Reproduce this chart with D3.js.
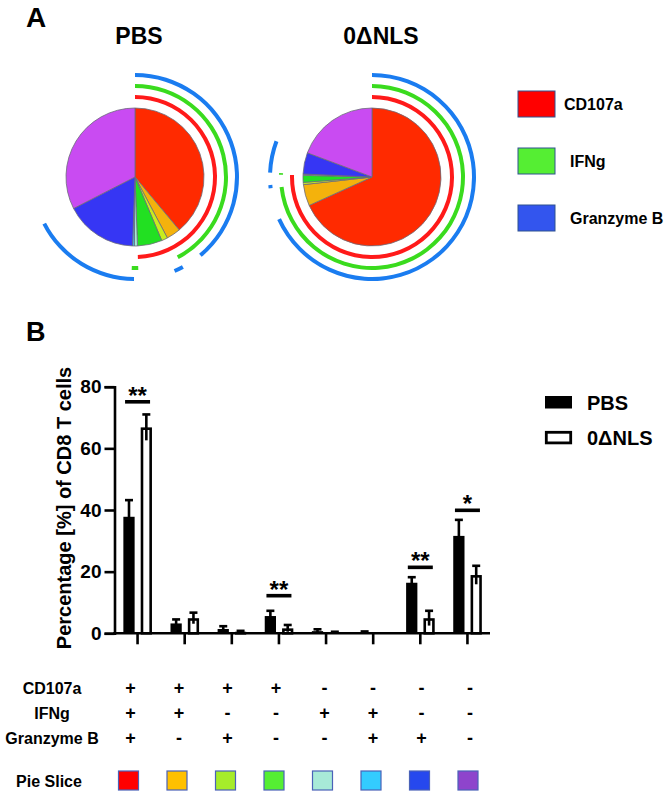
<!DOCTYPE html>
<html><head><meta charset="utf-8">
<script src="https://cdn.jsdelivr.net/npm/d3@7"></script>
<style>
body{margin:0;background:#fff}
svg{display:block;font-family:"Liberation Sans",Arial,Helvetica,sans-serif;font-weight:bold}
</style>
</head><body>
<svg id="chart" width="666" height="795"></svg>
<script>
// ---------- data ----------
const categories = ["+++", "++-", "+-+", "+--", "-+-", "-++", "--+", "---"];
const markers = ["CD107a", "IFNg", "Granzyme B"];
const cd107aSigns = ["+", "+", "+", "+", "-", "-", "-", "-"];
const ifngSigns = ["+", "+", "-", "-", "+", "+", "-", "-"];
const granzymeBSigns = ["+", "-", "+", "-", "-", "+", "+", "-"];
const groups = ["PBS", "0ΔNLS"];
const pbsMean = [37.8, 3.2, 1.4, 5.6, 0.7, 0.4, 16.4, 31.6];
const pbsSem = [5.4, 1.3, 0.9, 1.7, 0.6, 0.2, 1.8, 5.2];
const nlsMean = [66.8, 4.9, 0.5, 1.6, 0.3, 0.0, 4.9, 18.9];
const nlsSem = [4.2, 1.8, 0.3, 1.1, 0.2, 0.0, 2.4, 3.0];
const sigGroup = [0, 3, 6, 7];
const sigLabel = ["**", "**", "**", "*"];
const sigLevel = [75.1, 12.2, 21.4, 39.9];
const yTicks = [0, 20, 40, 60, 80];
const sliceColors = ["#FF2A00", "#F4B20C", "#C8EC1E", "#22E022", "#A8E8D8", "#3FCFF0", "#3636F4", "#C94BF2"];
const tableColors = ["#FF0000", "#FFC000", "#A6EC2A", "#55EE33", "#A8EAD8", "#33CCFF", "#2648EE", "#8E44CC"];
const ringColors = ["#FF1A1A", "#3ADB1E", "#1A7CF0"];
const legendColors = ["#FF0000", "#55EE33", "#3355EE"];

// ---------- setup ----------
const svg = d3.select("#chart");
const signs = [cd107aSigns, ifngSigns, granzymeBSigns];

// Panel labels
svg.append("text").attr("x", 26).attr("y", 27).attr("font-size", 28).text("A");
svg.append("text").attr("x", 26).attr("y", 341).attr("font-size", 27).text("B");

// ---------- Pies ----------
const pieData = [pbsMean, nlsMean];
const pieCenters = [[135, 177], [372, 177]];
const titleX = [139, 381];
const R = 69;
const ringR = [80, 91, 102];
const pie = d3.pie().sort(null).value(d => d);
const sliceArc = d3.arc().innerRadius(0).outerRadius(R);

pieData.forEach((vals, p) => {
  const g = svg.append("g").attr("transform", `translate(${pieCenters[p][0]},${pieCenters[p][1]})`);
  svg.append("text").attr("x", titleX[p]).attr("y", 44).attr("text-anchor", "middle")
    .attr("font-size", 23).text(groups[p]);
  const arcs = pie(vals);
  g.selectAll("path.slice").data(arcs).join("path").attr("class", "slice")
    .attr("d", sliceArc)
    .attr("fill", (d, i) => sliceColors[i])
    .attr("stroke", "#6b6b7a").attr("stroke-width", 0.8);
  // rings for markers
  markers.forEach((m, k) => {
    const runs = [];
    let cur = null;
    arcs.forEach((a, i) => {
      if (signs[k][i] === "+") {
        if (cur && Math.abs(cur.end - a.startAngle) < 1e-9) cur.end = a.endAngle;
        else { cur = {start: a.startAngle, end: a.endAngle}; runs.push(cur); }
      } else if (a.endAngle - a.startAngle > 1e-9) {
        cur = null;
      }
    });
    const ring = d3.arc().innerRadius(ringR[k] - 2).outerRadius(ringR[k] + 2);
    g.selectAll(null).data(runs.filter(r => r.end - r.start > 1e-6)).join("path")
      .attr("d", r => ring({startAngle: r.start, endAngle: r.end}))
      .attr("fill", ringColors[k]);
  });
});

// Legend A
markers.forEach((m, k) => {
  const y0 = 91 + k * 57;
  svg.append("rect").attr("x", 518).attr("y", y0).attr("width", 37).attr("height", 26)
    .attr("fill", legendColors[k]).attr("stroke", "#2F528F").attr("stroke-width", 1);
  svg.append("text").attr("x", k === 0 ? 564 : 570).attr("y", y0 + 13).attr("dy", "0.35em")
    .attr("font-size", 16).text(m);
});

// ---------- Bar chart ----------
const x = d3.scaleBand().domain(categories).range([114, 491]);
const xc = c => x(c) + x.bandwidth() / 2;
const xs = d3.scaleBand().domain(groups).range([-14.2, 14.4]).paddingInner(0.35);
const y = d3.scaleLinear().domain([0, 80]).range([633.3, 386.7]);

const yAxis = svg.append("g").attr("transform", "translate(114.5,0)")
  .call(d3.axisLeft(y).tickValues(yTicks).tickSize(10).tickPadding(3));
yAxis.select(".domain").attr("stroke", "#000").attr("stroke-width", 2.6);
yAxis.selectAll(".tick line").attr("stroke", "#000").attr("stroke-width", 2.6);
yAxis.selectAll(".tick text").attr("font-size", 19).attr("font-family", "Liberation Sans, Arial, sans-serif")
  .attr("font-weight", "bold").attr("fill", "#000");

const xAxis = svg.append("g").attr("transform", `translate(0,${y(0)})`)
  .call(d3.axisBottom(x).tickSize(11).tickFormat(""));
xAxis.select(".domain").attr("stroke", "#000").attr("stroke-width", 2.6).attr("d", "M113.2,0H490");
xAxis.selectAll(".tick line").attr("stroke", "#000").attr("stroke-width", 2.6);

svg.append("text").attr("transform", "translate(71,508) rotate(-90)").attr("text-anchor", "middle")
  .attr("font-size", 20).text("Percentage [%] of CD8 T cells");

const series = [{mean: pbsMean, sem: pbsSem, g: groups[0]}, {mean: nlsMean, sem: nlsSem, g: groups[1]}];
series.forEach((s, si) => {
  const gb = svg.append("g");
  categories.forEach((c, i) => {
    const v = s.mean[i];
    if (v <= 0) return;
    const x0 = xc(c) + xs(s.g);
    const w = xs.bandwidth();
    if (si === 0) {
      gb.append("rect").attr("x", x0).attr("y", y(v)).attr("width", w).attr("height", y(0) - y(v)).attr("fill", "#000");
    } else {
      gb.append("rect").attr("x", x0 + 1.3).attr("y", y(v) + 1.3).attr("width", w - 2.6)
        .attr("height", Math.max(0, y(0) - y(v) - 1.3)).attr("fill", "#fff").attr("stroke", "#000").attr("stroke-width", 2.6);
    }
    const e = s.sem[i];
    const cx = x0 + w / 2;
    gb.append("line").attr("x1", cx).attr("x2", cx).attr("y1", y(Math.max(0, v - e))).attr("y2", y(v + e))
      .attr("stroke", "#000").attr("stroke-width", 2.6);
    gb.append("line").attr("x1", cx - 4).attr("x2", cx + 4).attr("y1", y(v + e)).attr("y2", y(v + e))
      .attr("stroke", "#000").attr("stroke-width", 2.6);
  });
});

// significance
sigGroup.forEach((gi, k) => {
  const cx = xc(categories[gi]);
  const yy = y(sigLevel[k]);
  svg.append("line").attr("x1", cx - 12.5).attr("x2", cx + 12.5).attr("y1", yy).attr("y2", yy)
    .attr("stroke", "#000").attr("stroke-width", 3.6);
  svg.append("text").attr("x", cx).attr("y", yy + 2).attr("text-anchor", "middle")
    .attr("font-size", 24).text(sigLabel[k]);
});

// Legend B
groups.forEach((gname, k) => {
  const y0 = 396 + k * 35;
  if (k === 0) {
    svg.append("rect").attr("x", 545).attr("y", y0).attr("width", 27).attr("height", 12.5).attr("fill", "#000");
  } else {
    svg.append("rect").attr("x", 546.3).attr("y", y0 + 1.3).attr("width", 24.4).attr("height", 10.6)
      .attr("fill", "#fff").attr("stroke", "#000").attr("stroke-width", 2.8);
  }
  svg.append("text").attr("x", 587).attr("y", y0 + 6.5).attr("dy", "0.36em").attr("font-size", 20).text(gname);
});

// ---------- Table ----------
const tx = d3.scalePoint().domain(categories).range([130.5, 470]);
const rowY = [688, 713, 738];
markers.forEach((m, k) => {
  svg.append("text").attr("x", 52).attr("y", rowY[k]).attr("dy", "0.35em").attr("text-anchor", "middle")
    .attr("font-size", 16).text(m);
  categories.forEach((c, i) => {
    svg.append("text").attr("x", tx(c)).attr("y", rowY[k]).attr("dy", "0.35em").attr("text-anchor", "middle")
      .attr("font-size", 18).text(signs[k][i]);
  });
});
svg.append("text").attr("x", 49).attr("y", 781).attr("dy", "0.35em").attr("text-anchor", "middle")
  .attr("font-size", 16).text("Pie Slice");
svg.selectAll("rect.sw").data(categories).join("rect").attr("class", "sw")
  .attr("x", c => tx(c) - 12).attr("y", 771).attr("width", 20).attr("height", 19)
  .attr("fill", (c, i) => tableColors[i]).attr("stroke", "#4A62B8").attr("stroke-width", 1.2);
</script>
</body></html>
